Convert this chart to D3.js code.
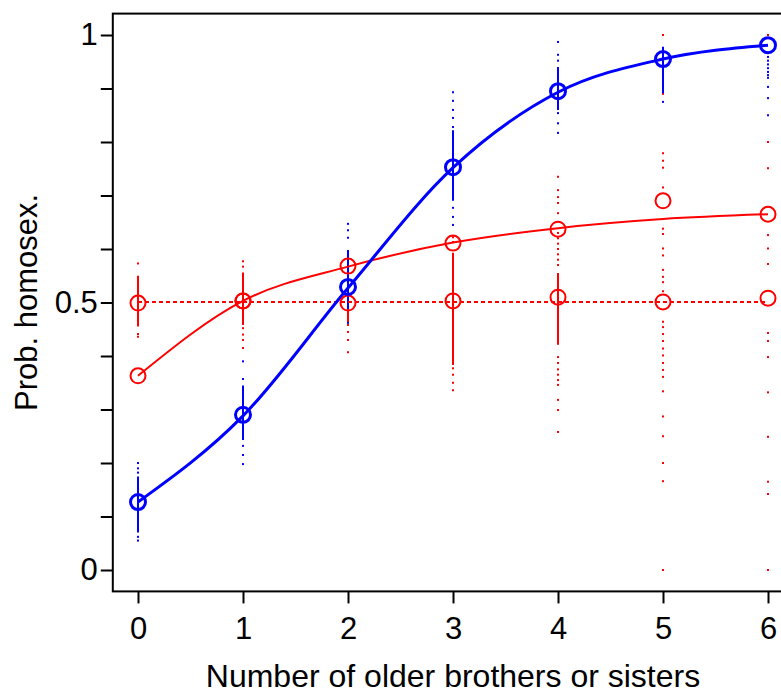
<!DOCTYPE html>
<html>
<head>
<meta charset="utf-8">
<script src="https://cdn.jsdelivr.net/npm/d3@7"></script>
<style>
  body { margin: 0; background: #fff; }
  svg text { font-family: "Liberation Sans", Arial, sans-serif; fill: #000; }
</style>
</head>
<body>
<div id="chart"></div>
<script>
// number of older brothers or sisters
const siblings = [0, 1, 2, 3, 4, 5, 6];
const yTicks = [0, 0.1, 0.2, 0.3, 0.4, 0.5, 0.6, 0.7, 0.8, 0.9, 1];
const yLabels = {0: "0", 0.5: "0.5", 1: "1"};

// blue model: observed points and fitted curve
const bluePoints = [0.127, 0.290, 0.529, 0.753, 0.895, 0.955, 0.981];
const blueFit = [0.127, 0.288, 0.527, 0.752, 0.893, 0.955, 0.981];
// red model (rising curve)
const redPoints = [0.363, 0.503, 0.568, 0.611, 0.637, 0.690, 0.665];
const redFit = [0.363, 0.503, 0.567, 0.612, 0.639, 0.656, 0.665];
// red model (flat, dotted)
const redFlatPoints = [0.499, 0.503, 0.499, 0.503, 0.510, 0.501, 0.508];
const redFlatFit = [0.501, 0.501, 0.501, 0.501, 0.501, 0.501, 0.501];

// dense part of each column of samples [low, high], null when there is none
const blueBands = [[0.07, 0.175], [0.243, 0.345], [0.488, 0.598], [0.69, 0.822], [0.86, 0.94], [0.891, 0.978], null];
const redBands = [[0.455, 0.55], [0.458, 0.556], [0.462, 0.579], [0.383, 0.593], [0.421, 0.555], null, null];

// scattered samples of each column
const blueDots = [
  [0.2, 0.19, 0.182, 0.062, 0.055],
  [0.39, 0.357, 0.232, 0.215, 0.198],
  [0.647, 0.635, 0.621, 0.462],
  [0.893, 0.877, 0.86, 0.845, 0.828, 0.677, 0.66, 0.645],
  [0.987, 0.963, 0.952, 0.854, 0.835, 0.817],
  [0.875],
  [0.959, 0.952, 0.945, 0.938, 0.931, 0.925, 0.920, 0.903, 0.882, 0.850]
];
const redDots = [
  [0.573, 0.441, 0.436],
  [0.577, 0.567, 0.452, 0.44, 0.43, 0.415],
  [0.458, 0.445, 0.43, 0.407],
  [0.622, 0.613, 0.377, 0.365, 0.35, 0.336],
  [0.735, 0.71, 0.697, 0.686, 0.667, 0.63, 0.62, 0.61, 0.60, 0.59, 0.58, 0.57,
   0.398, 0.387, 0.375, 0.365, 0.355, 0.346, 0.318, 0.299, 0.258],
  [1.0, 0.89, 0.779, 0.765, 0.752, 0.715, 0.638, 0.628, 0.601, 0.588, 0.561, 0.548, 0.538, 0.521,
   0.464, 0.454, 0.441, 0.428, 0.414, 0.401, 0.387, 0.374, 0.361, 0.334, 0.287, 0.25, 0.2, 0.166, 0.0],
  [1.0, 0.80, 0.751, 0.626, 0.601, 0.572, 0.443, 0.428, 0.398, 0.332, 0.249, 0.165, 0.142, 0.0]
];

const BLUE = "#0000ff", RED = "#ff0000";
const width = 781, height = 695;
const margin = {top: 13.6, left: 112.8, bottom: 591.4, right: 793.2};

let svg = d3.select("#chart").append("svg")
    .attr("width", width)
    .attr("height", height);

let x = d3.scaleLinear().domain([-0.24, 6.24]).range([margin.left, margin.right]);
let y = d3.scaleLinear().domain([-0.04, 1.04]).range([margin.bottom, margin.top]);

//box
svg.append("rect")
    .attr("x", margin.left).attr("y", margin.top)
    .attr("width", margin.right - margin.left).attr("height", margin.bottom - margin.top)
    .attr("fill", "none").attr("stroke", "#000").attr("stroke-width", 2);

//x axis
let xAxis = svg.append("g")
    .attr("transform", "translate(0," + margin.bottom + ")")
    .call(d3.axisBottom(x).tickValues(siblings).tickSize(12).tickPadding(14).tickFormat(d3.format("d")));
xAxis.select(".domain").remove();
xAxis.selectAll("line").attr("stroke-width", 2);
xAxis.selectAll("text").style("font-size", "31px").attr("font-family", null);

//y axis
let yAxis = svg.append("g")
    .attr("transform", "translate(" + margin.left + ",0)")
    .call(d3.axisLeft(y).tickValues(yTicks).tickSize(12).tickPadding(3)
        .tickFormat(function(d){ return yLabels[d] || ""; }));
yAxis.select(".domain").remove();
yAxis.selectAll("line").attr("stroke-width", 2);
yAxis.selectAll("text").style("font-size", "31px").attr("font-family", null);

//axis titles
svg.append("text")
    .attr("x", (x(0) + x(6)) / 2).attr("y", 687)
    .attr("text-anchor", "middle")
    .style("font-size", "32px")
    .text("Number of older brothers or sisters");
svg.append("text")
    .attr("transform", "translate(37," + y(0.5) + ") rotate(-90)")
    .attr("text-anchor", "middle")
    .style("font-size", "31px")
    .text("Prob. homosex.");

//sample columns
function drawColumns(bands, dots, color) {
    let g = svg.append("g");
    g.selectAll("line")
        .data(bands.map(function(b, i){ return {x: siblings[i], b: b}; }).filter(function(d){ return d.b; }))
        .enter().append("line")
        .attr("x1", function(d){ return x(d.x); })
        .attr("x2", function(d){ return x(d.x); })
        .attr("y1", function(d){ return y(d.b[0]); })
        .attr("y2", function(d){ return y(d.b[1]); })
        .attr("stroke", color).attr("stroke-width", 2);
    let pts = [];
    dots.forEach(function(col, i){ col.forEach(function(v){ pts.push({x: siblings[i], v: v}); }); });
    g.selectAll("rect")
        .data(pts)
        .enter().append("rect")
        .attr("x", function(d){ return x(d.x) - 1; })
        .attr("y", function(d){ return y(d.v) - 1; })
        .attr("width", 2).attr("height", 2)
        .attr("fill", color);
}
drawColumns(redBands, redDots, RED);
drawColumns(blueBands, blueDots, BLUE);

//fitted lines
let line = d3.line()
    .x(function(d, i){ return x(siblings[i]); })
    .y(function(d){ return y(d); })
    .curve(d3.curveMonotoneX);

svg.append("path").attr("d", line(redFlatFit))
    .attr("fill", "none").attr("stroke", RED).attr("stroke-width", 2).attr("stroke-dasharray", "4,3");
svg.append("path").attr("d", line(redFit))
    .attr("fill", "none").attr("stroke", RED).attr("stroke-width", 2);
svg.append("path").attr("d", line(blueFit))
    .attr("fill", "none").attr("stroke", BLUE).attr("stroke-width", 3);

//points
function drawPoints(values, color, sw) {
    svg.append("g").selectAll("circle")
        .data(values)
        .enter().append("circle")
        .attr("cx", function(d, i){ return x(siblings[i]); })
        .attr("cy", function(d){ return y(d); })
        .attr("r", 7.5)
        .attr("fill", "none")
        .attr("stroke", color)
        .attr("stroke-width", sw);
}
drawPoints(redFlatPoints, RED, 2);
drawPoints(redPoints, RED, 2);
drawPoints(bluePoints, BLUE, 3);
</script>
</body>
</html>
